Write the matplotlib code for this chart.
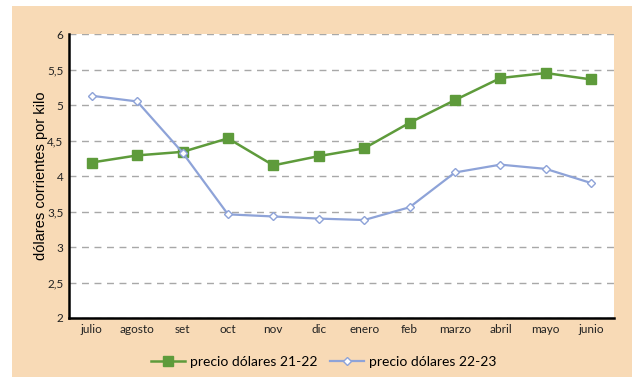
import numpy as np
import matplotlib.pyplot as plt
from matplotlib.patches import Rectangle
from matplotlib.ticker import FuncFormatter

meses = ['julio', 'agosto', 'set', 'oct', 'nov', 'dic', 'enero', 'feb',
         'marzo', 'abril', 'mayo', 'junio']
precio_21_22 = [4.19, 4.29, 4.34, 4.53, 4.15, 4.28, 4.39, 4.75, 5.07, 5.38, 5.45, 5.36]
precio_22_23 = [5.13, 5.05, 4.33, 3.46, 3.43, 3.40, 3.38, 3.56, 4.05, 4.16, 4.10, 3.90]

verde = '#5e9b3b'
azul = '#8ea3d8'
fondo = '#f8dab6'

fig = plt.figure(figsize=(6.36, 3.77), dpi=100)
fig.patches.append(Rectangle((12 / 636, 0), 620 / 636, 371 / 377,
                             transform=fig.transFigure, facecolor=fondo,
                             edgecolor='none', zorder=-1))

ax = fig.add_axes([69 / 636, 59 / 377, 545 / 636, 284 / 377])
x = np.arange(len(meses))

ax.plot(x, precio_21_22, color=verde, lw=1.8, marker='s', ms=6.5,
        mfc=verde, mec=verde, label='precio dólares 21-22', zorder=3)
ax.plot(x, precio_22_23, color=azul, lw=1.6, marker='D', ms=4.5,
        mfc='white', mec=azul, mew=1.0, label='precio dólares 22-23', zorder=3)

ax.set_xlim(-0.5, len(meses) - 0.5)
ax.set_ylim(2, 6)
ax.set_yticks(np.arange(2, 6.01, 0.5))
ax.yaxis.set_major_formatter(FuncFormatter(lambda v, p: f'{v:g}'.replace('.', ',')))
ax.set_xticks(x)
ax.set_xticklabels(meses)

for s in ['top', 'right']:
    ax.spines[s].set_visible(False)
for s in ['left', 'bottom']:
    ax.spines[s].set_linewidth(1.8)
    ax.spines[s].set_color('black')

ax.yaxis.grid(True, ls=(0, (5, 4)), color='#a8a8a8', lw=1.0)
ax.set_axisbelow(True)
ax.tick_params(length=0, pad=4, labelsize=8.5, labelcolor='#222222')
for t in ax.get_xticklabels() + ax.get_yticklabels():
    t.set_family('Lato')

ax.set_ylabel('dólares corrientes por kilo', family='Liberation Sans',
              fontsize=10.5, labelpad=-1)

leg = ax.legend(loc='upper center', bbox_to_anchor=(0.468, -0.09), ncol=2,
                frameon=False, prop={'family': 'Lato', 'size': 10},
                handlelength=2.4, columnspacing=0.9, handletextpad=0.4)

fig.savefig('out.png', dpi=100)
